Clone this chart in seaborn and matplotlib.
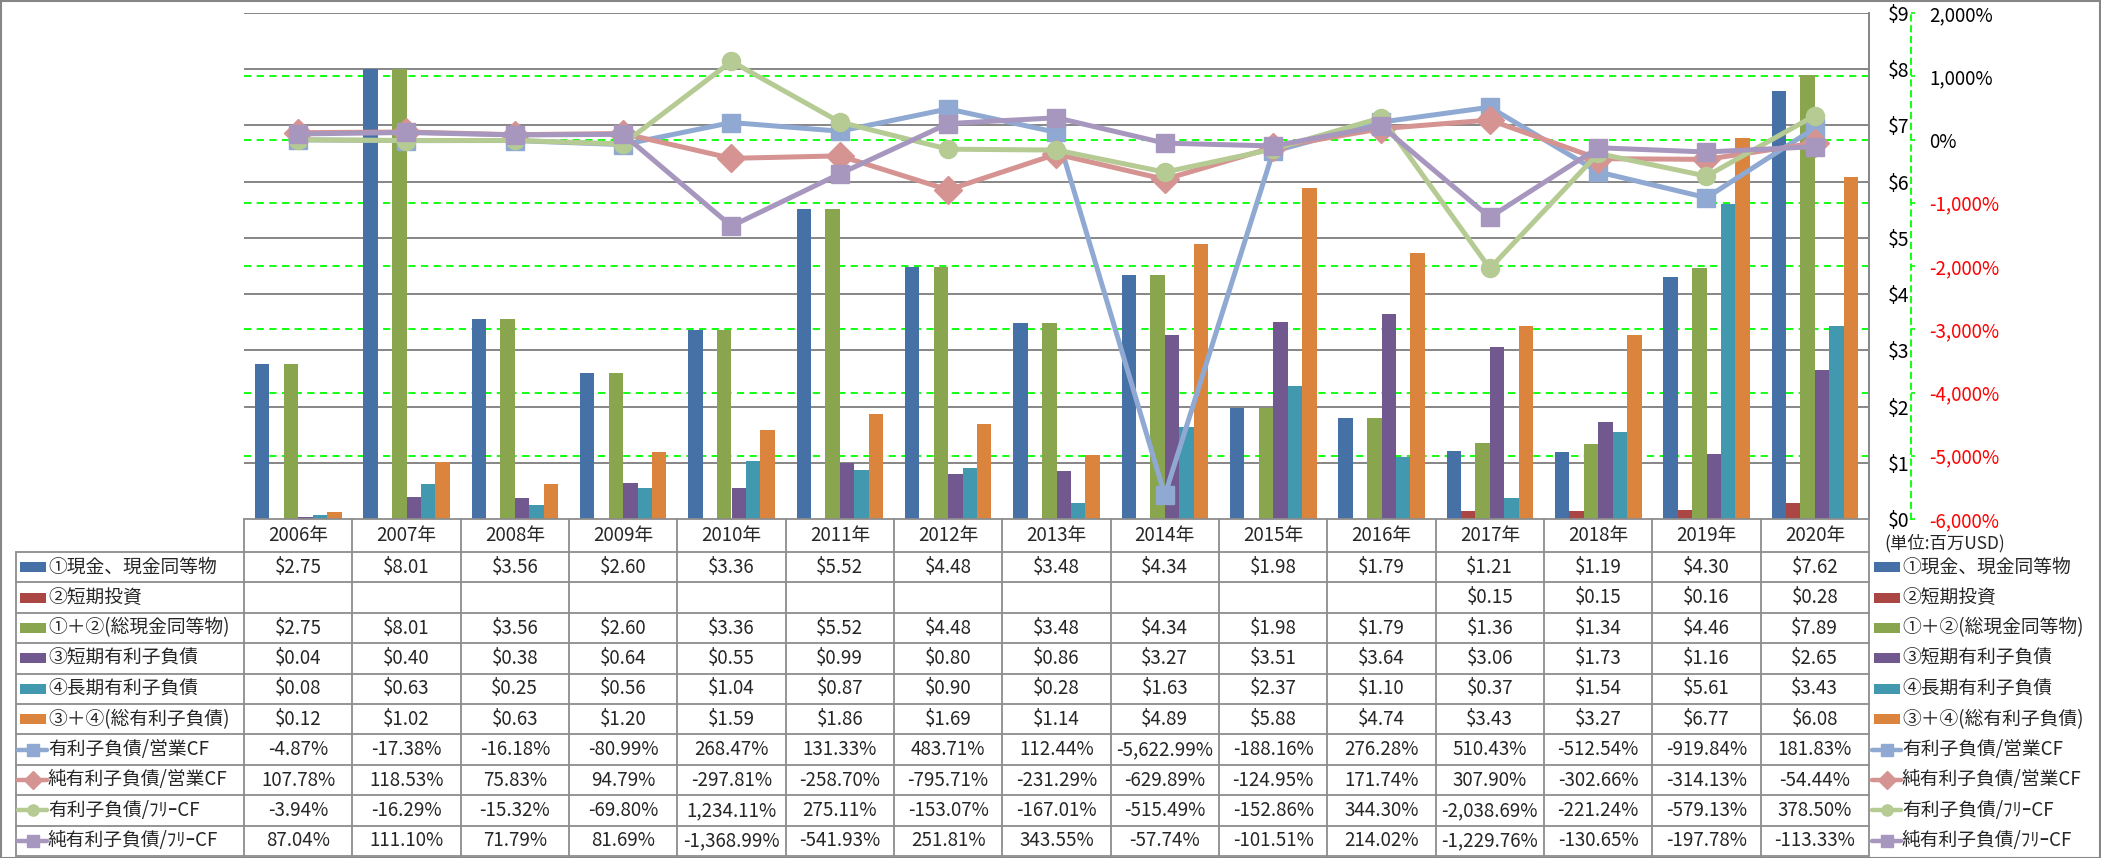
import numpy as np
import pandas as pd
import matplotlib
matplotlib.use("Agg")
import matplotlib.pyplot as plt
import seaborn as sns
from matplotlib.lines import Line2D
from matplotlib.patches import Rectangle
from matplotlib.ticker import FuncFormatter

# ---------------- data ----------------
years = [f"{y}年" for y in range(2006, 2021)]

cash = [2.75, 8.01, 3.56, 2.60, 3.36, 5.52, 4.48, 3.48, 4.34, 1.98, 1.79, 1.21, 1.19, 4.30, 7.62]
st_invest = [None] * 11 + [0.15, 0.15, 0.16, 0.28]
total_cash = [2.75, 8.01, 3.56, 2.60, 3.36, 5.52, 4.48, 3.48, 4.34, 1.98, 1.79, 1.36, 1.34, 4.46, 7.89]
st_debt = [0.04, 0.40, 0.38, 0.64, 0.55, 0.99, 0.80, 0.86, 3.27, 3.51, 3.64, 3.06, 1.73, 1.16, 2.65]
lt_debt = [0.08, 0.63, 0.25, 0.56, 1.04, 0.87, 0.90, 0.28, 1.63, 2.37, 1.10, 0.37, 1.54, 5.61, 3.43]
total_debt = [0.12, 1.02, 0.63, 1.20, 1.59, 1.86, 1.69, 1.14, 4.89, 5.88, 4.74, 3.43, 3.27, 6.77, 6.08]

debt_ocf = [-4.87, -17.38, -16.18, -80.99, 268.47, 131.33, 483.71, 112.44, -5622.99, -188.16,
            276.28, 510.43, -512.54, -919.84, 181.83]
netdebt_ocf = [107.78, 118.53, 75.83, 94.79, -297.81, -258.70, -795.71, -231.29, -629.89, -124.95,
               171.74, 307.90, -302.66, -314.13, -54.44]
debt_fcf = [-3.94, -16.29, -15.32, -69.80, 1234.11, 275.11, -153.07, -167.01, -515.49, -152.86,
            344.30, -2038.69, -221.24, -579.13, 378.50]
netdebt_fcf = [87.04, 111.10, 71.79, 81.69, -1368.99, -541.93, 251.81, 343.55, -57.74, -101.51,
               214.02, -1229.76, -130.65, -197.78, -113.33]

bar_names = ["①現金、現金同等物", "②短期投資", "①＋②(総現金同等物)",
             "③短期有利子負債", "④長期有利子負債", "③＋④(総有利子負債)"]
bar_values = [cash, st_invest, total_cash, st_debt, lt_debt, total_debt]
bar_colors = ["#4571A6", "#AA4643", "#89A54E", "#71588F", "#4198AF", "#DB843D"]

line_names = ["有利子負債/営業CF", "純有利子負債/営業CF", "有利子負債/ﾌﾘｰCF", "純有利子負債/ﾌﾘｰCF"]
line_values = [debt_ocf, netdebt_ocf, debt_fcf, netdebt_fcf]
line_colors = ["#8FA9D2", "#D59391", "#B5CB93", "#A797BF"]
line_markers = ["s", "D", "o", "s"]
line_msizes = [13, 14, 13, 13]

# ---------------- style ----------------
sns.set_style("white")
plt.rcParams["font.family"] = ["Noto Sans CJK JP", "DejaVu Sans"]

W, H = 2101, 858
fig = plt.figure(figsize=(W / 100, H / 100), dpi=100)
fig.patch.set_facecolor("white")


def fx(px):
    return px / W


def fy(py):
    return 1 - py / H


GRID_GRAY = "#868686"
TABLE_GRAY = "#8C8C8C"
LIME = "#00FF00"

PL, PR, PT, PB = 244, 1869, 13, 519
ax = fig.add_axes([fx(PL), fy(PB), (PR - PL) / W, (PB - PT) / H])

rows = []
for name, vals in zip(bar_names, bar_values):
    for yr, v in zip(years, vals):
        rows.append({"year": yr, "series": name, "value": np.nan if v is None else v})
df = pd.DataFrame(rows)

sns.barplot(data=df, x="year", y="value", hue="series", hue_order=bar_names, order=years,
            palette=bar_colors, saturation=1, width=0.8, gap=0, errorbar=None,
            linewidth=0, legend=False, ax=ax, zorder=2)

ax.set_xlim(-0.5, len(years) - 0.5)
ax.set_ylim(0, 9)
ax.set_xlabel("")
ax.set_ylabel("")
ax.set_xticks([])
ax.grid(False)
for v in range(1, 10):
    ax.axhline(v, color=GRID_GRAY, lw=1.4, zorder=0.6)
# percentage gridlines (secondary scale: -6000..2000 mapped to 0..9)
for p in range(-5000, 2000, 1000):
    ax.axhline((p + 6000) * 9 / 8000, color=LIME, lw=1.3, ls=(0, (4, 3)), zorder=0.8)

# ---------------- lines (secondary axis) ----------------
ax2 = ax.twinx()
ax2.set_ylim(-6000, 2000)
for name, vals, c, m, ms in zip(line_names, line_values, line_colors, line_markers, line_msizes):
    sns.lineplot(x=np.arange(len(years)), y=vals, ax=ax2, color=c, marker=m, markersize=ms,
                 markeredgecolor=c, markeredgewidth=1, linewidth=3.6, legend=False, zorder=3)
ax2.set_xlim(-0.5, len(years) - 0.5)
ax2.set_ylabel("")
ax2.grid(False)
ax2.patch.set_visible(False)
ax2.spines["right"].set_position(("outward", 30.2))
ax2.spines["right"].set_color(LIME)
ax2.spines["right"].set_linestyle((0, (3, 3)))
ax2.spines["right"].set_linewidth(1.3)
pticks = list(range(-6000, 2001, 1000))
ax2.set_yticks(pticks)
ax2.yaxis.set_major_formatter(FuncFormatter(lambda v, p: f"{v:,.0f}%"))
ax2.tick_params(axis="y", left=False, right=True, length=3, width=1.2, color=LIME, pad=10,
                labelsize=13.5)
for lbl, v in zip(ax2.get_yticklabels(), pticks):
    lbl.set_color("#FF0000" if v < 0 else "black")

# primary axis labels on the right (after twinx, which resets them to the left)
ax.yaxis.tick_right()
ax.set_yticks(range(0, 10))
ax.yaxis.set_major_formatter(FuncFormatter(lambda v, p: f"${v:.0f}"))
ax.tick_params(axis="y", which="both", left=False, right=True, labelleft=False, labelright=True,
               length=0, pad=13.5, labelsize=14, labelcolor="black")
ax.spines["right"].set_color(GRID_GRAY)
ax.spines["right"].set_linewidth(1.4)
for s in ["top", "left", "bottom"]:
    ax.spines[s].set_visible(False)
    ax2.spines[s].set_visible(False)

# ---------------- data table ----------------
TL = 16.3
HT, HB = 519, 552
ROW_H = 30.4
n_rows = len(bar_names) + len(line_names)
col_w = (PR - PL) / len(years)
TB = HB + n_rows * ROW_H


def hline(x0, x1, y, color=TABLE_GRAY, lw=1.3):
    fig.add_artist(Line2D([fx(x0), fx(x1)], [fy(y), fy(y)], transform=fig.transFigure,
                          color=color, lw=lw))


def vline(x, y0, y1, color=TABLE_GRAY, lw=1.3):
    fig.add_artist(Line2D([fx(x), fx(x)], [fy(y0), fy(y1)], transform=fig.transFigure,
                          color=color, lw=lw))


hline(PL, PR, HT)
for k in range(n_rows + 1):
    hline(TL, PR, HB + k * ROW_H)
vline(TL, HB, TB)
for i in range(len(years) + 1):
    vline(PL + i * col_w, HT, TB)

FS_VAL = 13.5
FS_LAB = 13.5

for i, yr in enumerate(years):
    fig.text(fx(PL + (i + 0.5) * col_w), fy((HT + HB) / 2), yr, ha="center", va="center",
             fontsize=FS_VAL)


def fmt_bar(v):
    return "" if v is None else f"${v:.2f}"


def fmt_pct(v):
    return f"{v:,.2f}%"


all_names = bar_names + line_names
all_vals = bar_values + line_values
for k, (name, vals) in enumerate(zip(all_names, all_vals)):
    yc = HB + (k + 0.5) * ROW_H
    for i, v in enumerate(vals):
        txt = fmt_bar(v) if k < len(bar_names) else fmt_pct(v)
        fig.text(fx(PL + (i + 0.5) * col_w), fy(yc), txt, ha="center", va="center",
                 fontsize=FS_VAL)


def legend_key(x0, yc, k):
    if k < len(bar_names):
        fig.add_artist(Rectangle((fx(x0), fy(yc + 5)), 26 / W, 10 / H, transform=fig.transFigure,
                                 facecolor=bar_colors[k], edgecolor="none"))
    else:
        j = k - len(bar_names)
        c = line_colors[j]
        fig.add_artist(Line2D([fx(x0 - 2), fx(x0 + 27)], [fy(yc), fy(yc)], transform=fig.transFigure,
                              color=c, lw=3.2))
        fig.add_artist(Line2D([fx(x0 + 12.5)], [fy(yc)], transform=fig.transFigure, color=c,
                              marker=line_markers[j], markersize=line_msizes[j] * 0.62,
                              markeredgecolor=c, linestyle="none"))


for k, name in enumerate(all_names):
    yc = HB + (k + 0.5) * ROW_H
    legend_key(20, yc, k)
    fig.text(fx(48), fy(yc), name, ha="left", va="center", fontsize=FS_LAB)
    legend_key(1874, yc, k)
    fig.text(fx(1902), fy(yc), name, ha="left", va="center", fontsize=FS_LAB)

fig.text(fx(1884), fy(543), "(単位:百万USD)", ha="left", va="center", fontsize=12.5)

# outer frame
fig.add_artist(Rectangle((0.5 / W, 0.5 / H), 1 - 1.5 / W, 1 - 1.5 / H, transform=fig.transFigure,
                         fill=False, edgecolor=GRID_GRAY, lw=1.5))

fig.savefig("out.png", dpi=100, facecolor="white")
